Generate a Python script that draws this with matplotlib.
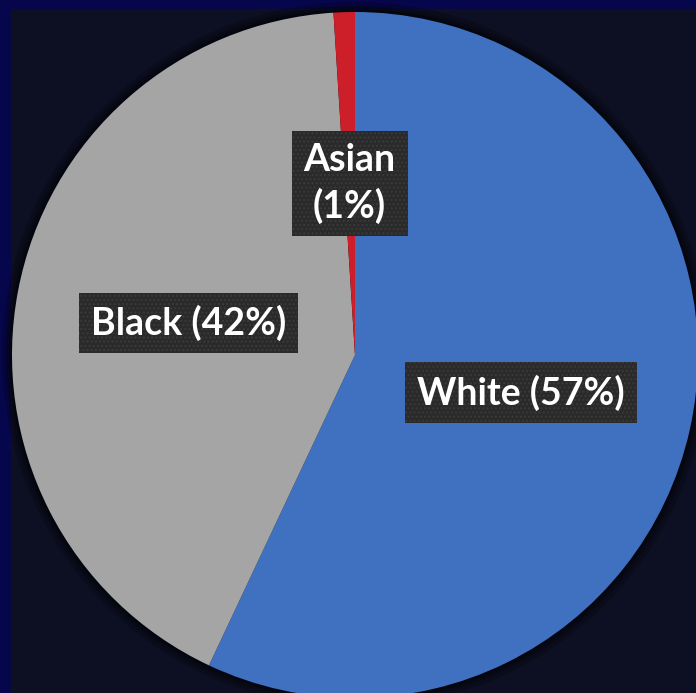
import matplotlib.pyplot as plt
import numpy as np
from matplotlib.patches import Rectangle, Circle

groups = ["White", "Black", "Asian"]
shares = [57, 42, 1]
names = ["White (57%)", "Black (42%)", "Asian\n(1%)"]
colors = ["#4070C0", "#A5A5A5", "#CC1F2A"]

fig = plt.figure(figsize=(6.96, 6.93), dpi=100, facecolor="#06064c")
ax = fig.add_axes([0, 0, 1, 1])
ax.set_xlim(0, 696)
ax.set_ylim(0, 693)
ax.set_aspect("equal")
ax.axis("off")

# inner panel
ax.add_patch(Rectangle((11, 0), 685, 684, color="#0d0f22", zorder=0))

cx, cy, r = 355, 338, 343
# soft dark rim behind the pie
for k, a in zip([10, 6, 3], [0.25, 0.35, 0.5]):
    ax.add_patch(Circle((cx, cy), r + k, color="#03040a", alpha=a, lw=0, zorder=1))

wedges, _ = ax.pie(shares, colors=colors, startangle=90, counterclock=False,
                   radius=r, center=(cx, cy), frame=True,
                   wedgeprops=dict(linewidth=0, zorder=2))
ax.set_xlim(0, 696)
ax.set_ylim(0, 693)
ax.axis("off")

for w, label in zip(wedges, names):
    mid = np.deg2rad((w.theta1 + w.theta2) / 2)
    x = cx + 0.495 * r * np.cos(mid)
    y = cy + 0.5 * r * np.sin(mid)
    ax.text(x, y, label, ha="center", va="center", color="white",
            fontsize=27, fontweight="bold", family=["Lato", "DejaVu Sans"],
            linespacing=1.35, zorder=5,
            bbox=dict(boxstyle="square,pad=0.32", facecolor="#2a2a2a",
                      edgecolor="#3a3a3a", linewidth=0, hatch="...."))

fig.savefig("out.png", dpi=100, facecolor=fig.get_facecolor())
